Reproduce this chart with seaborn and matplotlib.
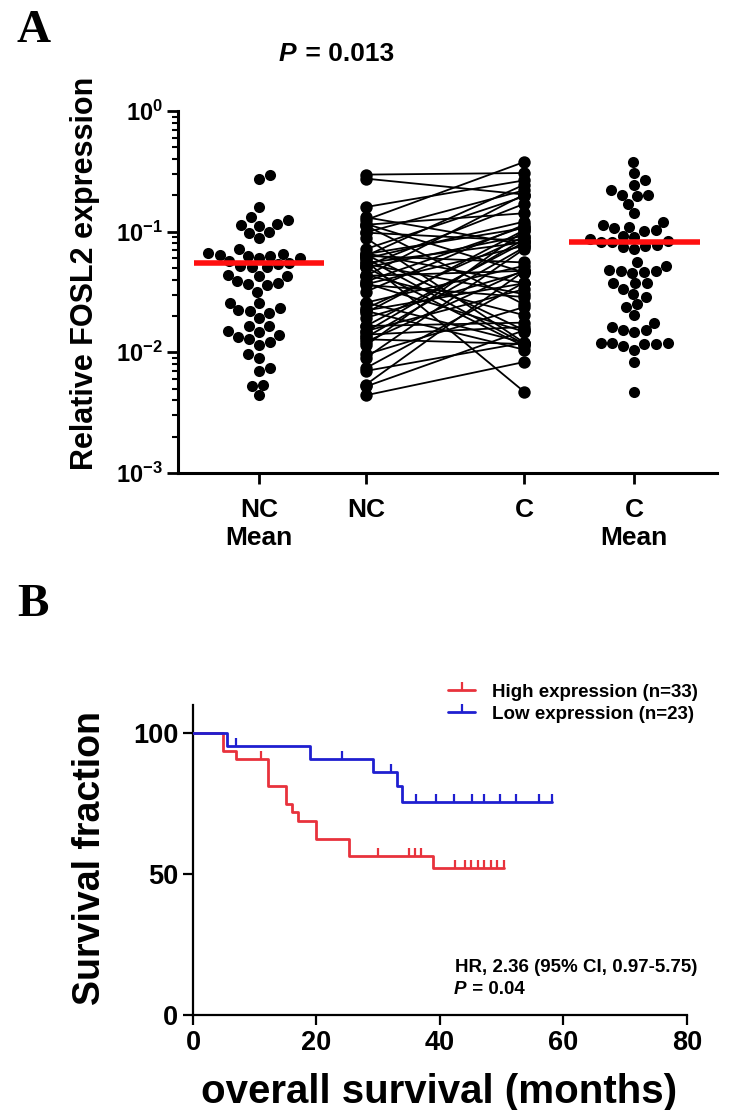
import numpy as np
import pandas as pd
import matplotlib
matplotlib.use('Agg')
import matplotlib.pyplot as plt
from matplotlib.lines import Line2D
from matplotlib.ticker import NullFormatter, LogLocator
import seaborn as sns

# ─── DATA ─────────────────────────────────────────────────────────────────────
# panel A: relative FOSL2 expression, NC and C paired per patient
NC_VALUES = [0.297, 0.275, 0.160, 0.1315, 0.125, 0.116, 0.114, 0.112, 0.0986, 0.098,
             0.0885, 0.0718, 0.066, 0.0652, 0.0643, 0.063, 0.063, 0.060, 0.060, 0.057,
             0.055, 0.0538, 0.052, 0.0505, 0.0505, 0.0438, 0.043, 0.043, 0.0386, 0.0373,
             0.0366, 0.0361, 0.0318, 0.0258, 0.0258, 0.0231, 0.0222, 0.022, 0.0213, 0.0193,
             0.0165, 0.0165, 0.015, 0.0148, 0.014, 0.0133, 0.0128, 0.0122, 0.0114, 0.0096,
             0.009, 0.0074, 0.0070, 0.0054, 0.0052, 0.0044]
C_VALUES = [0.306, 0.203, 0.266, 0.078, 0.378, 0.0458, 0.142, 0.0249, 0.22, 0.0841,
            0.012, 0.196, 0.0373, 0.107, 0.0152, 0.245, 0.0555, 0.0117, 0.121, 0.0047,
            0.0815, 0.0303, 0.170, 0.0112, 0.0927, 0.0203, 0.203, 0.0473, 0.110, 0.0148,
            0.0764, 0.0287, 0.114, 0.0521, 0.0120, 0.0908, 0.0373, 0.0105, 0.103, 0.0467,
            0.0176, 0.0815, 0.0333, 0.0869, 0.0162, 0.074, 0.0117, 0.048, 0.102, 0.0237,
            0.0718, 0.0378, 0.0120, 0.0473, 0.0152, 0.0083]
GROUP_LABELS = ['NC\nMean', 'NC', 'C', 'C\nMean']
Y_TICKS_A = [1e-3, 1e-2, 1e-1, 1e0]
Y_TICKLABELS_A = [r'$10^{-3}$', r'$10^{-2}$', r'$10^{-1}$', r'$10^{0}$']
P_TEXT_A = ' = 0.013'

# panel B: Kaplan-Meier steps (months, % surviving) and censor times
HIGH_TIMES = [0, 4.9, 7.0, 12.1, 15.1, 16.0, 17.0, 20.0, 25.2, 38.9, 50.4]
HIGH_SURV = [100, 93.9, 90.9, 81.5, 75.0, 72.1, 68.9, 62.5, 56.5, 52.3, 52.3]
HIGH_CENSOR = [11.0, 30.0, 35.0, 36.0, 37.0, 42.5, 44.0, 45.0, 46.2, 47.2, 48.3, 49.3, 50.4]
LOW_TIMES = [0, 5.5, 19.0, 29.2, 33.0, 33.9, 58.2]
LOW_SURV = [100, 95.7, 91.1, 86.3, 81.3, 75.8, 75.8]
LOW_CENSOR = [7.0, 24.2, 32.1, 36.1, 39.3, 42.2, 45.2, 47.2, 49.8, 52.3, 56.0, 58.2]
HIGH_LABEL = 'High expression (n=33)'
LOW_LABEL = 'Low expression (n=23)'
HR_TEXT = 'HR, 2.36 (95% CI, 0.97-5.75)'
P_TEXT_B = ' = 0.04'

# ─── STYLE ────────────────────────────────────────────────────────────────────
RED = '#e8323c'
BLUE = '#1f1fd0'
MEAN_RED = '#ff1010'

sns.set_style('ticks')
plt.rcParams.update({
    'font.family': ['Liberation Sans', 'DejaVu Sans'],
    'font.weight': 'bold',
    'axes.labelweight': 'bold',
    'mathtext.fontset': 'custom',
    'mathtext.rm': 'Liberation Sans:bold',
    'mathtext.bf': 'Liberation Sans:bold',
    'mathtext.it': 'Liberation Sans:italic:bold',
    'text.color': 'black',
    'axes.labelcolor': 'black',
    'axes.edgecolor': 'black',
    'xtick.color': 'black',
    'ytick.color': 'black',
})

# x positions of the four columns in panel A
POS = [0.0, 1.0, 2.48, 3.51]

fig = plt.figure(figsize=(7.35, 11.1), dpi=100)
axA = fig.add_axes([0.242, 0.574, 0.733, 0.326])
axB = fig.add_axes([0.2626, 0.0856, 0.672, 0.279])

# ─── PANEL A ──────────────────────────────────────────────────────────────────
swarm_df = pd.DataFrame({
    'pos': [POS[0]] * len(NC_VALUES) + [POS[3]] * len(C_VALUES),
    'value': NC_VALUES + C_VALUES,
})
sns.swarmplot(data=swarm_df, x='pos', y='value', native_scale=True,
              log_scale=(False, True), orient='x', color='black', size=8,
              linewidth=0, ax=axA, zorder=3)

for nc, c in zip(NC_VALUES, C_VALUES):
    axA.plot([POS[1], POS[2]], [nc, c], color='black', lw=1.3, zorder=2)
axA.scatter([POS[1]] * len(NC_VALUES), NC_VALUES, s=80, color='black', lw=0, zorder=3)
axA.scatter([POS[2]] * len(C_VALUES), C_VALUES, s=80, color='black', lw=0, zorder=3)

# mean bars
for pos, vals in [(POS[0], NC_VALUES), (POS[3], C_VALUES)]:
    axA.hlines(np.mean(vals), pos - 0.61, pos + 0.61, color=MEAN_RED, lw=4, zorder=5)

axA.set_xlim(-0.76, 4.28)
axA.set_ylim(1e-3, 1)
axA.set_xticks(POS)
axA.set_xticklabels(GROUP_LABELS, fontsize=19, linespacing=1.2)
axA.set_yticks(Y_TICKS_A)
axA.set_yticklabels(Y_TICKLABELS_A, fontsize=17)
axA.yaxis.set_minor_locator(LogLocator(subs=np.arange(2, 10)))
axA.yaxis.set_minor_formatter(NullFormatter())
axA.tick_params(axis='y', which='major', length=8, width=2, pad=3)
axA.tick_params(axis='y', which='minor', length=4, width=1.5)
axA.tick_params(axis='x', length=8, width=2, pad=10)
axA.set_xlabel('')
axA.set_ylabel('Relative FOSL2 expression', fontsize=22, va='center')
axA.yaxis.set_label_coords(-0.172, 0.55)
sns.despine(ax=axA)
for side in ['left', 'bottom']:
    axA.spines[side].set_linewidth(2.2)

fig.text(0.405, 0.951, r'$P$', fontsize=19, ha='right', va='center')
fig.text(0.405, 0.951, P_TEXT_A, fontsize=19, ha='left', va='center')

# ─── PANEL B ──────────────────────────────────────────────────────────────────
handles = []
for times, surv, cens, color in [(HIGH_TIMES, HIGH_SURV, HIGH_CENSOR, RED),
                                 (LOW_TIMES, LOW_SURV, LOW_CENSOR, BLUE)]:
    axB.step(times, surv, where='post', color=color, lw=2, zorder=3)
    idx = np.searchsorted(times, cens, side='right') - 1
    axB.plot(cens, np.asarray(surv)[idx], ls='none', marker=2, ms=6, mew=1.6,
             color=color, zorder=3)
    handles.append(Line2D([0], [0], color=color, lw=2, marker=2, ms=6, mew=1.6))

axB.set_xlim(0, 80)
axB.set_ylim(0, 110)
axB.set_xticks(range(0, 81, 20))
axB.set_yticks([0, 50, 100])
axB.tick_params(labelsize=19.5, length=7, width=1.6)
axB.set_xlabel('overall survival (months)', fontsize=29, va='center')
axB.xaxis.set_label_coords(0.498, -0.248)
axB.set_ylabel('Survival fraction', fontsize=27, va='center')
axB.yaxis.set_label_coords(-0.2085, 0.506)
sns.despine(ax=axB)
for side in ['left', 'bottom']:
    axB.spines[side].set_linewidth(1.6)

axB.legend(handles, [HIGH_LABEL, LOW_LABEL], loc='upper left',
           bbox_to_anchor=(0.6095, 0.384), bbox_transform=fig.transFigure,
           frameon=False, fontsize=13.5, handlelength=1.45, handletextpad=0.9,
           labelspacing=0.25, borderpad=0, borderaxespad=0)

fig.text(0.619, 0.1288, HR_TEXT, fontsize=13.5, ha='left', va='center')
fig.text(0.636, 0.109, r'$P$', fontsize=13.5, ha='right', va='center')
fig.text(0.636, 0.109, P_TEXT_B, fontsize=13.5, ha='left', va='center')

# panel letters
fig.text(0.045, 0.972, 'A', family='Liberation Serif', fontsize=34,
         weight='bold', ha='center', va='center')
fig.text(0.045, 0.455, 'B', family='Liberation Serif', fontsize=34,
         weight='bold', ha='center', va='center')

fig.savefig('out.png', dpi=100)
